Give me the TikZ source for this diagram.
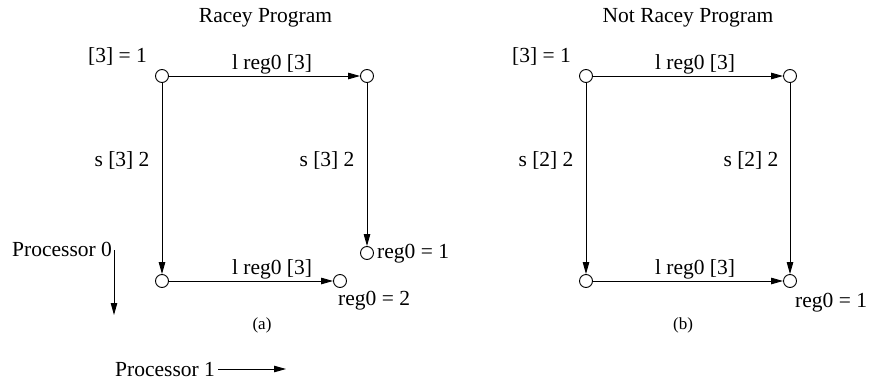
\documentclass[tikz,border=0pt]{standalone}
\usepackage{fontspec}
\setmainfont{Liberation Serif}
\usetikzlibrary{arrows.meta}
\tikzset{
  st/.style={circle,draw,fill=white,line width=0.9pt,minimum size=13pt,inner sep=0pt},
  arr/.style={line width=0.9pt,-{Triangle[length=12pt,width=6.5pt]},shorten >=0pt},
  lbl/.style={inner sep=0pt,anchor=base,font=\fontsize{21.5}{24}\selectfont},
  lblw/.style={lbl,anchor=base west},
  captext/.style={inner sep=0pt,anchor=base,font=\fontsize{17}{20}\selectfont},
}
\begin{document}
\begin{tikzpicture}[x=1pt,y=-1pt]
\useasboundingbox (0,0) rectangle (881,383);
% titles
\node[lbl] (t1) at (265.5,22) {Racey Program};
\node[lbl] (t2) at (688,22) {Not Racey Program};
% left diagram
\node[st] (a) at (162,76) {};
\node[st] (b) at (367,76) {};
\node[st] (c) at (367,253) {};
\node[st] (d) at (162,281) {};
\node[st] (e) at (340,281) {};
\draw[arr] (a) -- (b);
\draw[arr] (b) -- (c);
\draw[arr] (a) -- (d);
\draw[arr] (d) -- (e);
\node[lblw] (la) at (88,62) {[3] = 1};
\node[lbl] (lab) at (272,69) {l reg0 [3]};
\node[lbl] (lad) at (122,166) {s [3] 2};
\node[lbl] (lbc) at (327,166) {s [3] 2};
\node[lblw] (lc) at (377,258) {reg0 = 1};
\node[lbl] (lde) at (272,274) {l reg0 [3]};
\node[lblw] (le) at (338,305) {reg0 = 2};
\node[captext] (capa) at (262,329) {(a)};
% processor arrows
\node[lblw] (p0) at (12,256) {Processor 0};
\coordinate (p0s) at (114,250);
\coordinate (p0e) at (114,315);
\draw[arr] (p0s) -- (p0e);
\node[lblw] (p1) at (115,376) {Processor 1};
\coordinate (p1s) at (218,369);
\coordinate (p1e) at (286,369);
\draw[arr] (p1s) -- (p1e);
% right diagram
\node[st] (f) at (586,76) {};
\node[st] (g) at (790,76) {};
\node[st] (h) at (586,281) {};
\node[st] (i) at (790,281) {};
\draw[arr] (f) -- (g);
\draw[arr] (g) -- (i);
\draw[arr] (f) -- (h);
\draw[arr] (h) -- (i);
\node[lblw] (lf) at (512,62) {[3] = 1};
\node[lbl] (lfg) at (695,69) {l reg0 [3]};
\node[lbl] (lfh) at (546,166) {s [2] 2};
\node[lbl] (lgi) at (751,166) {s [2] 2};
\node[lbl] (lhi) at (695,274) {l reg0 [3]};
\node[lblw] (li) at (795,307) {reg0 = 1};
\node[captext] (capb) at (683,329) {(b)};
\end{tikzpicture}
\end{document}
